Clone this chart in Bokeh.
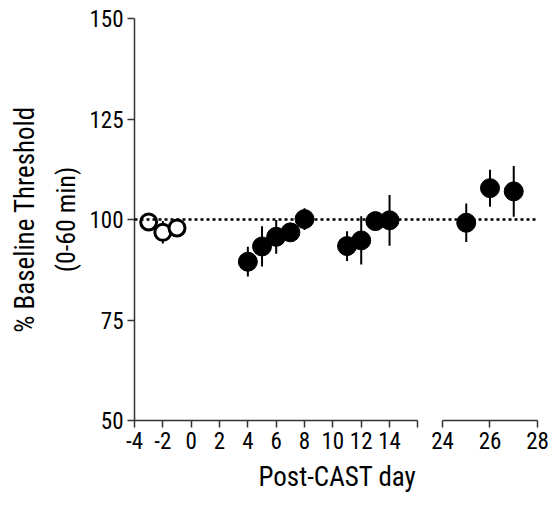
import numpy as np
from bokeh.plotting import figure
from bokeh.layouts import row
from bokeh.models import Range1d, Span, Title, ColumnDataSource, FixedTicker
from bokeh.embed import file_html
from bokeh.resources import INLINE

# ---- data ----
pre_days = [-3, -2, -1]
pre_mean = [99.4, 96.8, 97.9]
pre_sem = [1.0, 2.8, 1.0]

post_days = [4, 5, 6, 7, 8, 11, 12, 13, 14, 25, 26, 27]
post_mean = [89.5, 93.3, 95.7, 96.8, 100.1, 93.4, 94.8, 99.6, 99.8, 99.2, 107.8, 107.0]
post_sem = [3.7, 5.0, 4.2, 1.5, 2.7, 3.7, 6.0, 2.0, 6.3, 4.8, 4.6, 6.3]

left_ticks = [-4, -2, 0, 2, 4, 6, 8, 10, 12, 14, 16]
left_tick_labels = ["-4", "-2", "0", "2", "4", "6", "8", "10", "12", "14", ""]
right_ticks = [24, 26, 28]
y_ticks = [50, 75, 100, 125, 150]
baseline = 100

FONT = "'Roboto Condensed', 'DejaVu Sans Condensed', sans-serif"
AX = "#333333"

def style(p, ticks, bounds):
    p.xaxis.ticker = FixedTicker(ticks=ticks)
    p.xaxis.bounds = bounds
    for ax in p.axis:
        ax.axis_line_color = AX
        ax.axis_line_width = 1.5
        ax.major_tick_line_color = AX
        ax.major_tick_line_width = 1.5
        ax.major_tick_out = 7
        ax.major_tick_in = 0
        ax.minor_tick_line_color = None
        ax.major_label_text_font = FONT
        ax.major_label_text_font_size = "23px"
        ax.major_label_text_color = "black"
        ax.major_label_standoff = 4
    p.xgrid.visible = False
    p.ygrid.visible = False
    p.outline_line_color = None
    p.background_fill_color = None
    p.border_fill_color = None
    p.add_layout(Span(location=baseline, dimension="width", line_color="black",
                      line_width=2.5, line_dash="3 3"))

def draw(p, x, m, s, filled):
    x = np.array(x); m = np.array(m); s = np.array(s)
    src = ColumnDataSource(dict(x=x, m=m, lo=m - s, hi=m + s))
    p.segment(x0="x", y0="lo", x1="x", y1="hi", source=src, line_color="black", line_width=2)
    if filled:
        p.scatter("x", "m", source=src, size=19, fill_color="black", line_color="black")
    else:
        p.scatter("x", "m", source=src, size=16, fill_color="white", line_color="black", line_width=3)

# ---- left panel ----
p1 = figure(width=430, height=500, output_backend="svg", toolbar_location=None,
            x_range=Range1d(-4, 16.89), y_range=Range1d(50, 150),
            min_border_left=134, min_border_right=0, min_border_top=18, min_border_bottom=80)
style(p1, left_ticks, (-4, 16))
p1.xaxis.major_label_overrides = dict(zip(left_ticks, left_tick_labels))
p1.yaxis.ticker = FixedTicker(ticks=y_ticks)

pd_arr = np.array(post_days)
mask_l = pd_arr <= 16
draw(p1, pre_days, pre_mean, pre_sem, False)
draw(p1, pd_arr[mask_l], np.array(post_mean)[mask_l], np.array(post_sem)[mask_l], True)

p1.add_layout(Title(text="(0-60 min)", align="center", standoff=12,
                    text_font=FONT, text_font_size="26px", text_font_style="normal",
                    text_color="black"), "left")
p1.add_layout(Title(text="% Baseline Threshold", align="center", standoff=4,
                    text_font=FONT, text_font_size="27px", text_font_style="normal",
                    text_color="black"), "left")
p1.add_layout(Title(text="Post-CAST day", align="left", offset=124, standoff=14,
                    text_font=FONT, text_font_size="27px", text_font_style="normal",
                    text_color="black"), "below")

# ---- right panel ----
p2 = figure(width=119, height=500, output_backend="svg", toolbar_location=None,
            x_range=Range1d(23.495, 28), y_range=p1.y_range, y_axis_location=None,
            min_border_left=0, min_border_right=12, min_border_top=18, min_border_bottom=80)
style(p2, right_ticks, (24, 28))
mask_r = pd_arr >= 24
draw(p2, pd_arr[mask_r], np.array(post_mean)[mask_r], np.array(post_sem)[mask_r], True)

layout = row(p1, p2, spacing=0)
open("out.html", "w").write(file_html(layout, INLINE))
